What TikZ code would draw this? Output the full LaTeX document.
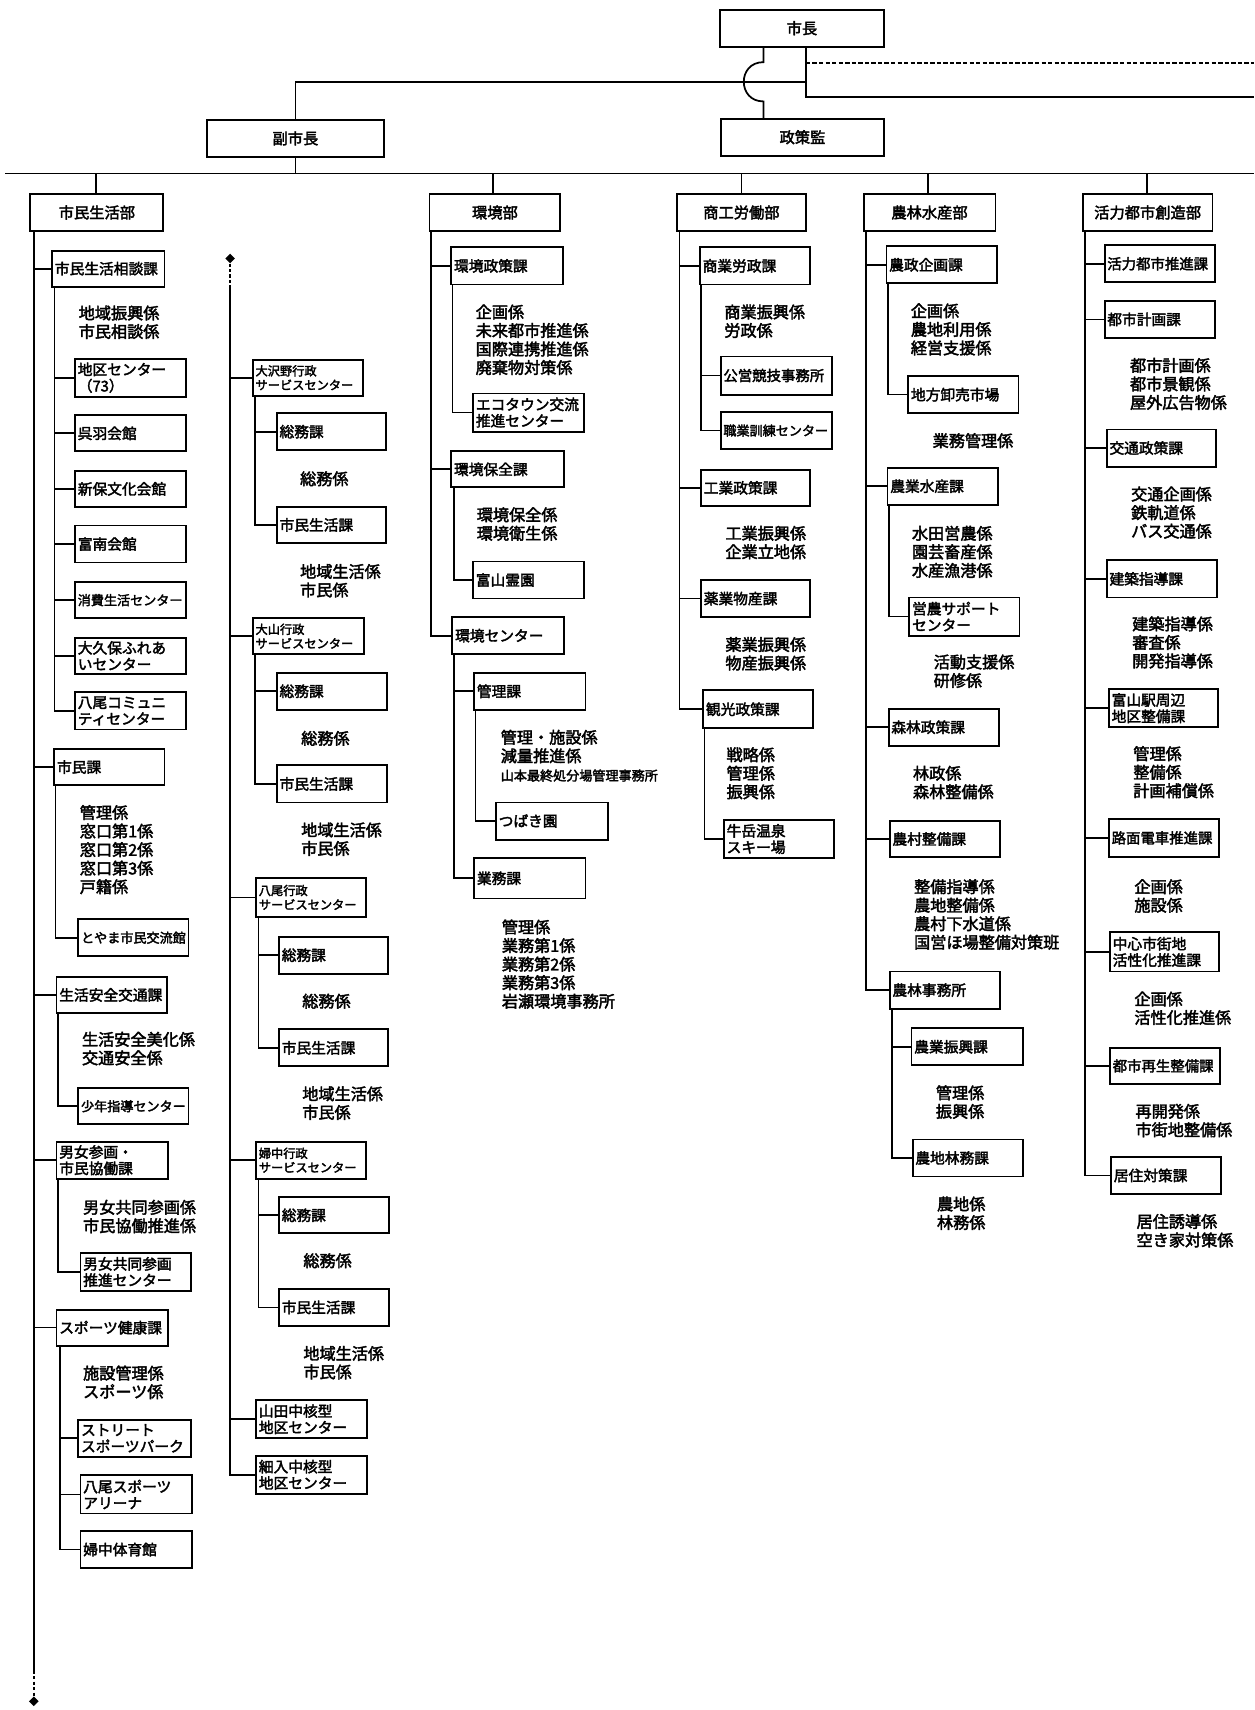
\documentclass[tikz,border=0pt]{standalone}
\usepackage{fontspec}
\usetikzlibrary{shapes.geometric}
\newfontfamily\jp[AutoFakeBold=2.5]{Noto Sans CJK JP}
\tikzset{
 bx/.style={draw, line width=1.7pt, inner xsep=2.5pt, inner ysep=0pt, align=left, font=\jp\bfseries\fontsize{13.5}{15}\selectfont},
 mid/.style={font=\jp\bfseries\fontsize{13.2}{15}\selectfont},
 sm/.style={font=\jp\bfseries\fontsize{12}{14}\selectfont},
 xs/.style={font=\jp\bfseries\fontsize{11.2}{13}\selectfont},
 cbx/.style={draw, line width=1.7pt, inner sep=0pt, align=center, font=\jp\bfseries\fontsize{14}{16}\selectfont},
 conn/.style={line width=1.6pt},
 kakari/.style={anchor=north west, inner sep=0pt, align=left, font=\jp\bfseries\fontsize{14.8}{17}\selectfont},
 dmd/.style={diamond, fill=black, inner sep=0pt, minimum size=9pt},
}
\newcommand\obox[7][]{%
 \pgfmathsetmacro\oboxw{#5-#3}\pgfmathsetmacro\oboxh{#6-#4}\pgfmathsetmacro\oboxt{#5-#3-5}%
 \node[bx, minimum width=\oboxw pt, minimum height=\oboxh pt, text width=\oboxt pt, anchor=north west, #1] (#2) at (#3,#4) {#7};}
\newcommand\ctbox[6]{%
 \pgfmathsetmacro\oboxw{#4-#2}\pgfmathsetmacro\oboxh{#5-#3}%
 \node[cbx, minimum width=\oboxw pt, minimum height=\oboxh pt, anchor=north west] (#1) at (#2,#3) {#6};}
\newcommand\kkr[4]{\node[kakari] (#1) at (#2,{#3-7}) {#4};}
\begin{document}
\begin{tikzpicture}[x=1pt,y=-1pt]
\fill[white] (0,0) rectangle (1150,1568);
\useasboundingbox (0,0) rectangle (1150,1568);
% ---- top
\ctbox{shicho}{659}{8}{810}{42}{市長}
\ctbox{fuku}{189}{109}{351}{143}{副市長}
\ctbox{seisaku}{660}{108}{810}{142}{政策監}
\coordinate (rj) at (739,0);
\coordinate (e1) at (1150,58);
\coordinate (e2) at (1150,89);
\coordinate (hj) at (739,75);
\coordinate (j1) at (700,57);
\coordinate (j2) at (700,93);
\draw[conn] (shicho.south -| rj) -- (e2 -| rj) -- (e2);
\draw[conn, dash pattern=on 4pt off 2pt] (e1 -| rj) -- (e1);
\draw[conn] (fuku.north) |- (hj);
\draw[conn] (shicho.south -| j1) -- (j1) .. controls (676,57) and (676,93) .. (j2) -- (seisaku.north -| j2);
\coordinate (ml) at (5,159);
\coordinate (mr) at (1150,159);
\draw[conn] (ml) -- (mr);
\draw[conn] (fuku.south) -- (fuku.south |- ml);
% departments
\ctbox{d1}{27}{177}{149}{211}{市民生活部}
\ctbox{d2}{393}{177}{513}{211}{環境部}
\ctbox{d3}{620}{177}{738}{211}{商工労働部}
\ctbox{d4}{791}{177}{912}{211}{農林水産部}
\ctbox{d5}{992}{177}{1111}{211}{活力都市創造部}
\foreach \n/\vx in {d1/88,d2/452,d3/680,d4/851,d5/1052}{
  \coordinate (v\n) at (\vx,159);
  \draw[conn] (v\n) -- (\n.north -| v\n);
}
% ---- column 1
\obox{sodan}{47}{229}{150}{262}{市民生活相談課}
\kkr{k11}{72}{287}{地域振興係\\市民相談係}
\obox{c11}{68}{328}{170}{363}{地区センター\\（73）}
\obox{c12}{68}{380}{170}{413}{呉羽会館}
\obox{c13}{68}{431}{170}{464}{新保文化会館}
\obox{c14}{68}{481}{170}{515}{富南会館}
\obox[sm]{c15}{68}{533}{170}{566}{消費生活センター}
\obox{c16}{68}{584}{170}{617}{大久保ふれあ\\いセンター}
\obox{c17}{68}{634}{170}{668}{八尾コミュニ\\ティセンター}
\obox{shimin}{49}{686}{150}{719}{市民課}
\kkr{k12}{73}{745}{管理係\\窓口第1係\\窓口第2係\\窓口第3係\\戸籍係}
\obox[sm]{c18}{71}{842}{172}{876}{とやま市民交流館}
\obox{anzen}{51}{895}{152}{928}{生活安全交通課}
\kkr{k13}{75}{953}{生活安全美化係\\交通安全係}
\obox[sm]{c19}{71}{997}{172}{1030}{少年指導センター}
\obox{danjo}{51}{1046}{153}{1080}{男女参画・\\市民協働課}
\kkr{k14}{76}{1107}{男女共同参画係\\市民協働推進係}
\obox{c110}{73}{1148}{174}{1183}{男女共同参画\\推進センター}
\obox{spo}{51}{1200}{153}{1233}{スポーツ健康課}
\kkr{k15}{76}{1259}{施設管理係\\スポーツ係}
\obox{c111}{71}{1301}{174}{1335}{ストリート\\スポーツパーク}
\obox{c112}{73}{1352}{175}{1387}{八尾スポーツ\\アリーナ}
\obox{c113}{73}{1403}{175}{1437}{婦中体育館}
\coordinate (sp1) at (31,0);
\node[dmd] (dm1) at (31,1560) {};
\coordinate (dm1a) at (31,1532);
\draw[conn] (d1.south -| sp1) -- (dm1a);
\draw[conn, dash pattern=on 3pt off 2pt] (dm1a) -- (dm1.north);
\foreach \c in {sodan,shimin,anzen,danjo,spo}{\draw[conn] (d1.south -| sp1) |- (\c.west);}
\coordinate (s11) at (50,0);
\foreach \c in {c11,c12,c13,c14,c15,c16,c17}{\draw[conn] (sodan.south -| s11) |- (\c.west);}
\coordinate (s12) at (51,0);
\draw[conn] (shimin.south -| s12) |- (c18.west);
\coordinate (s13) at (53,0);
\draw[conn] (anzen.south -| s13) |- (c19.west);
\coordinate (s14) at (53,0);
\draw[conn] (danjo.south -| s14) |- (c110.west);
\coordinate (s15) at (55,0);
\foreach \c in {c111,c112,c113}{\draw[conn] (spo.south -| s15) |- (\c.west);}
% ---- column 2
\node[dmd] (dm2) at (211,237) {};
\coordinate (sp2) at (211,263);
\draw[conn, dash pattern=on 3pt off 2pt] (dm2.south) -- (sp2);
\obox[xs]{os}{231}{329}{332}{362}{大沢野行政\\サービスセンター}
\obox{os1}{253}{378}{353}{412}{総務課}
\kkr{k21}{275}{439}{総務係}
\obox{os2}{253}{464}{353}{497}{市民生活課}
\kkr{k22}{275}{524}{地域生活係\\市民係}
\obox[xs]{oy}{231}{566}{333}{599}{大山行政\\サービスセンター}
\obox{oy1}{253}{616}{354}{650}{総務課}
\kkr{k23}{276}{677}{総務係}
\obox{oy2}{253}{701}{354}{735}{市民生活課}
\kkr{k24}{276}{761}{地域生活係\\市民係}
\obox[xs]{ya}{234}{804}{335}{840}{八尾行政\\サービスセンター}
\obox{ya1}{255}{858}{355}{892}{総務課}
\kkr{k25}{277}{918}{総務係}
\obox{ya2}{255}{943}{355}{977}{市民生活課}
\kkr{k26}{277}{1003}{地域生活係\\市民係}
\obox[xs]{fu}{234}{1046}{335}{1080}{婦中行政\\サービスセンター}
\obox{fu1}{255}{1097}{356}{1130}{総務課}
\kkr{k27}{278}{1156}{総務係}
\obox{fu2}{255}{1181}{356}{1215}{市民生活課}
\kkr{k28}{278}{1241}{地域生活係\\市民係}
\obox{yt}{234}{1283}{336}{1318}{山田中核型\\地区センター}
\obox{hs}{234}{1334}{336}{1369}{細入中核型\\地区センター}
\foreach \c in {os,oy,ya,fu,yt,hs}{\draw[conn] (sp2) |- (\c.west);}
\coordinate (s21) at (234,0);
\foreach \c in {os1,os2}{\draw[conn] (os.south -| s21) |- (\c.west);}
\foreach \c in {oy1,oy2}{\draw[conn] (oy.south -| s21) |- (\c.west);}
\coordinate (s22) at (237,0);
\foreach \c in {ya1,ya2}{\draw[conn] (ya.south -| s22) |- (\c.west);}
\foreach \c in {fu1,fu2}{\draw[conn] (fu.south -| s22) |- (\c.west);}
% ---- column 3
\obox{ks}{413}{226}{515}{260}{環境政策課}
\kkr{k31}{436}{286}{企画係\\未来都市推進係\\国際連携推進係\\廃棄物対策係}
\obox{eco}{433}{360}{535}{395}{エコタウン交流\\推進センター}
\obox{kh}{413}{413}{516}{446}{環境保全課}
\kkr{k32}{437}{472}{環境保全係\\環境衛生係}
\obox{rei}{433}{514}{535}{548}{富山霊園}
\obox{kc}{414}{565}{516}{599}{環境センター}
\obox{kr}{434}{616}{536}{650}{管理課}
\kkr{k33}{459}{676}{管理・施設係\\減量推進係\\{\fontsize{12}{17}\selectfont 山本最終処分場管理事務所}}
\obox{tsu}{454}{735}{557}{769}{つばき園}
\obox{gy}{434}{786}{536}{823}{業務課}
\kkr{k34}{460}{850}{管理係\\業務第1係\\業務第2係\\業務第3係\\岩瀬環境事務所}
\coordinate (sp3) at (395,0);
\foreach \c in {ks,kh,kc}{\draw[conn] (d2.south -| sp3) |- (\c.west);}
\coordinate (s31) at (415,0);
\draw[conn] (ks.south -| s31) |- (eco.west);
\coordinate (s32) at (416,0);
\draw[conn] (kh.south -| s32) |- (rei.west);
\foreach \c in {kr,gy}{\draw[conn] (kc.south -| s32) |- (\c.west);}
\coordinate (s33) at (436,0);
\draw[conn] (kr.south -| s33) |- (tsu.west);
% ---- column 4
\obox{sg}{641}{226}{742}{260}{商業労政課}
\kkr{k41}{664}{286}{商業振興係\\労政係}
\obox[mid]{kei}{660}{326}{762}{361}{公営競技事務所}
\obox[sm]{shoku}{660}{377}{762}{411}{職業訓練センター}
\obox{kg}{642}{430}{742}{463}{工業政策課}
\kkr{k42}{665}{489}{工業振興係\\企業立地係}
\obox{yb}{642}{531}{742}{565}{薬業物産課}
\kkr{k43}{665}{591}{薬業振興係\\物産振興係}
\obox{kan}{644}{632}{745}{667}{観光政策課}
\kkr{k44}{666}{692}{戦略係\\管理係\\振興係}
\obox{ski}{663}{751}{764}{786}{牛岳温泉\\スキー場}
\coordinate (sp4) at (623,0);
\foreach \c in {sg,kg,yb,kan}{\draw[conn] (d3.south -| sp4) |- (\c.west);}
\coordinate (s41) at (643,0);
\foreach \c in {kei,shoku}{\draw[conn] (sg.south -| s41) |- (\c.west);}
\coordinate (s42) at (646,0);
\draw[conn] (kan.south -| s42) |- (ski.west);
% ---- column 5
\obox{nk}{812}{225}{913}{259}{農政企画課}
\kkr{k51}{835}{285}{企画係\\農地利用係\\経営支援係}
\obox{oro}{832}{344}{933}{378}{地方卸売市場}
\kkr{k52}{855}{404}{業務管理係}
\obox{ns}{813}{428}{914}{462}{農業水産課}
\kkr{k53}{836}{489}{水田営農係\\園芸畜産係\\水産漁港係}
\obox{eino}{833}{547}{934}{582}{営農サポート\\センター}
\kkr{k54}{856}{607}{活動支援係\\研修係}
\obox{sr}{814}{649}{915}{683}{森林政策課}
\kkr{k55}{837}{709}{林政係\\森林整備係}
\obox{ss}{815}{752}{916}{785}{農村整備課}
\kkr{k56}{838}{813}{整備指導係\\農地整備係\\農村下水道係\\国営ほ場整備対策班}
\obox{nj}{815}{890}{916}{924}{農林事務所}
\obox{nj1}{835}{942}{937}{976}{農業振興課}
\kkr{k57}{858}{1002}{管理係\\振興係}
\obox{nj2}{836}{1044}{937}{1078}{農地林務課}
\kkr{k58}{859}{1104}{農地係\\林務係}
\coordinate (sp5) at (794,0);
\foreach \c in {nk,ns,sr,ss,nj}{\draw[conn] (d4.south -| sp5) |- (\c.west);}
\coordinate (s51) at (814,0);
\draw[conn] (nk.south -| s51) |- (oro.west);
\coordinate (s52) at (815,0);
\draw[conn] (ns.south -| s52) |- (eino.west);
\coordinate (s53) at (818,0);
\foreach \c in {nj1,nj2}{\draw[conn] (nj.south -| s53) |- (\c.west);}
% ---- column 6
\obox[mid]{ka}{1012}{224}{1113}{258}{活力都市推進課}
\obox{tk}{1012}{275}{1113}{309}{都市計画課}
\kkr{k61}{1036}{335}{都市計画係\\都市景観係\\屋外広告物係}
\obox{kt}{1014}{393}{1114}{427}{交通政策課}
\kkr{k62}{1037}{453}{交通企画係\\鉄軌道係\\バス交通係}
\obox{ks6}{1014}{513}{1115}{547}{建築指導課}
\kkr{k63}{1038}{572}{建築指導係\\審査係\\開発指導係}
\obox{tst}{1016}{631}{1116}{666}{富山駅周辺\\地区整備課}
\kkr{k64}{1039}{691}{管理係\\整備係\\計画補償係}
\obox[mid]{ro}{1016}{750}{1117}{785}{路面電車推進課}
\kkr{k65}{1040}{813}{企画係\\施設係}
\obox{ch}{1017}{854}{1117}{890}{中心市街地\\活性化推進課}
\kkr{k66}{1040}{916}{企画係\\活性化推進係}
\obox[mid]{ts}{1017}{960}{1118}{993}{都市再生整備課}
\kkr{k67}{1041}{1019}{再開発係\\市街地整備係}
\obox{kj}{1018}{1060}{1119}{1094}{居住対策課}
\kkr{k68}{1042}{1120}{居住誘導係\\空き家対策係}
\coordinate (sp6) at (995,0);
\foreach \c in {ka,tk,kt,ks6,tst,ro,ch,ts,kj}{\draw[conn] (d5.south -| sp6) |- (\c.west);}
\end{tikzpicture}
\end{document}
